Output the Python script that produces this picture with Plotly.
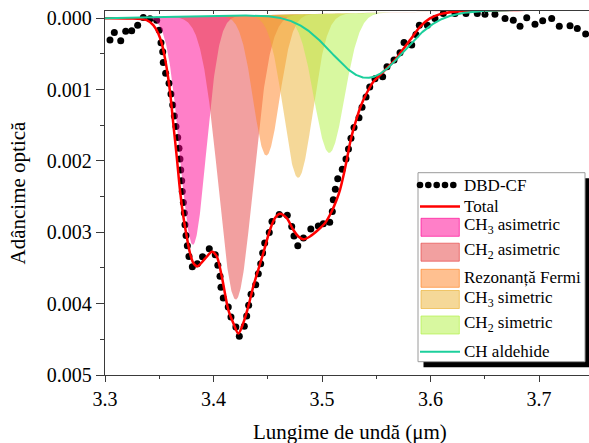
import numpy as np
import plotly.graph_objects as go

# ---------------- data ----------------
# measured spectrum (DBD-CF): wavelength (um) and optical depth
dbd_x = [3.3046, 3.3086, 3.3145, 3.3191, 3.3246, 3.3301, 3.3353, 3.3415, 3.3476, 3.3500,
         3.3516, 3.3532, 3.3537, 3.3559, 3.3590, 3.3608, 3.3624, 3.3639, 3.3654, 3.3670,
         3.3682, 3.3691, 3.3698, 3.3707, 3.3712, 3.3722, 3.3731, 3.3737, 3.3747, 3.3759,
         3.3774, 3.3805, 3.3851, 3.3899, 3.3961, 3.4016, 3.4040, 3.4060, 3.4069, 3.4090,
         3.4136, 3.4161, 3.4206, 3.4238, 3.4284, 3.4306, 3.4324, 3.4346, 3.4389, 3.4413,
         3.4435, 3.4453, 3.4472, 3.4514, 3.4539, 3.4606, 3.4680, 3.4721, 3.4742, 3.4777,
         3.4829, 3.4897, 3.4966, 3.5012, 3.5071, 3.5095, 3.5104, 3.5123, 3.5145, 3.5187,
         3.5221, 3.5244, 3.5267, 3.5295, 3.5341, 3.5369, 3.5406, 3.5440, 3.5488, 3.5559,
         3.5599, 3.5664, 3.5719, 3.5756, 3.5827, 3.5866, 3.5897, 3.5971, 3.6041, 3.6118,
         3.6226, 3.6327, 3.6431, 3.6502, 3.6594, 3.6687, 3.6763, 3.6825, 3.6887, 3.6963,
         3.7034, 3.7117, 3.7187, 3.7286, 3.7353, 3.7430]
dbd_y = [0.000308, 0.000200, 0.000317, 0.000182, 0.000178, 0.000098, -0.000010, 0.000007, 0.000028, 0.000168,
         0.000345, 0.000471, 0.000620, 0.000773, 0.000913, 0.001063, 0.001217, 0.001371, 0.001520, 0.001674,
         0.001822, 0.001972, 0.002126, 0.002280, 0.002429, 0.002583, 0.002731, 0.002895, 0.003045, 0.003189,
         0.003338, 0.003483, 0.003441, 0.003343, 0.003231, 0.003315, 0.003462, 0.003618, 0.003772, 0.003920,
         0.004046, 0.004186, 0.004329, 0.004457, 0.004317, 0.004175, 0.004021, 0.003870, 0.003734, 0.003580,
         0.003441, 0.003291, 0.003151, 0.003003, 0.002849, 0.002751, 0.002762, 0.002919, 0.003053, 0.003189,
         0.003081, 0.002955, 0.002913, 0.002881, 0.002860, 0.002709, 0.002545, 0.002396, 0.002252, 0.002116,
         0.001972, 0.001832, 0.001683, 0.001534, 0.001394, 0.001248, 0.001105, 0.000965, 0.000849, 0.000821,
         0.000681, 0.000587, 0.000485, 0.000340, 0.000378, 0.000228, 0.000098, 0.000098, 0.000004, -0.000066,
         -0.000066, -0.000066, -0.000066, -0.000056, -0.000056, 0.000004, 0.000028, 0.000112, -0.000004, 0.000084,
         0.000038, 0.000004, 0.000112, 0.000108, 0.000144, 0.000224]

# total fit curve
total_x = [3.2900, 3.3000, 3.3230, 3.3384, 3.3445, 3.3491, 3.3523, 3.3553, 3.3583, 3.3606, 3.3629,
           3.3661, 3.3691, 3.3722, 3.3753, 3.3783, 3.3814, 3.3851, 3.3922, 3.3986, 3.4030,
           3.4076, 3.4136, 3.4182, 3.4229, 3.4275, 3.4321, 3.4367, 3.4413, 3.4459, 3.4521,
           3.4567, 3.4613, 3.4675, 3.4735, 3.4782, 3.4828, 3.4889, 3.4966, 3.5028, 3.5089,
           3.5135, 3.5166, 3.5196, 3.5228, 3.5258, 3.5288, 3.5320, 3.5350, 3.5381, 3.5427,
           3.5473, 3.5535, 3.5596, 3.5673, 3.5719, 3.5811, 3.5903, 3.5995, 3.6088, 3.6180,
           3.6364, 3.6800, 3.7600]
total_y = [0.000000, 0.000000, 0.000004, 0.000028, 0.000098, 0.000214, 0.000354, 0.000564, 0.000843, 0.001123, 0.001473,
           0.001940, 0.002406, 0.002779, 0.003059, 0.003291, 0.003431, 0.003478, 0.003371, 0.003273, 0.003338,
           0.003618, 0.004084, 0.004270, 0.004420, 0.004270, 0.004038, 0.003758, 0.003524, 0.003291, 0.002965,
           0.002801, 0.002741, 0.002801, 0.002965, 0.003059, 0.003098, 0.003059, 0.002965, 0.002871, 0.002709,
           0.002545, 0.002406, 0.002220, 0.001986, 0.001752, 0.001566, 0.001403, 0.001263, 0.001147, 0.001007,
           0.000891, 0.000797, 0.000703, 0.000587, 0.000494, 0.000308, 0.000122, 0.000004, -0.000056, -0.000084,
           -0.000102, -0.000115, -0.000140]

# fitted gaussian components
comp_names = ["CH<sub>3</sub> asimetric", "CH<sub>2</sub> asimetric", "Rezonanță Fermi",
              "CH<sub>3</sub> simetric", "CH<sub>2</sub> simetric"]
comp_center = [3.3810, 3.4205, 3.4487, 3.4780, 3.5067]
comp_amp = [0.00320, 0.00398, 0.00197, 0.00229, 0.00195]
comp_sigma = [0.0120, 0.0158, 0.0120, 0.0133, 0.0140]
comp_rgb = [(255, 0, 145), (229, 65, 65), (255, 129, 33), (235, 177, 49), (177, 241, 65)]

# CH aldehyde band
ald_center = 3.542
ald_amp = 0.00091
ald_sigma = 0.033

# linear baseline of the fit (value at 3.3 um, slope per um)
base_b0 = 0.0
base_slope = -0.0003

# ---------------- figure ----------------
FONT = "'Liberation Serif', 'Times New Roman', Times, 'DejaVu Serif', serif"
W, H = 589, 443
ML, MR, MT, MB = 105, 0, 11, 68
PW, PH = W - ML - MR, H - MT - MB
X0 = 3.3
PX_PER_UM = 1085.0
X1 = X0 + PW / PX_PER_UM

xs = np.linspace(3.28, 3.77, 1471)
base = base_b0 + base_slope * (xs - 3.3)

fig = go.Figure()

# data points (drawn first: fills are translucent over them)
fig.add_trace(go.Scatter(x=dbd_x, y=dbd_y, mode="markers",
                         marker=dict(color="black", size=7), showlegend=False))

for name, c, a, s, rgb in zip(comp_names, comp_center, comp_amp, comp_sigma, comp_rgb):
    g = base + a * np.exp(-0.5 * ((xs - c) / s) ** 2)
    fig.add_trace(go.Scatter(x=xs, y=base, mode="lines", line=dict(width=0),
                             showlegend=False, hoverinfo="skip"))
    fig.add_trace(go.Scatter(x=xs, y=g, mode="lines", line=dict(width=0),
                             fill="tonexty",
                             fillcolor="rgba(%d,%d,%d,0.5)" % rgb,
                             showlegend=False, name=name))

fig.add_trace(go.Scatter(x=total_x, y=total_y, mode="lines",
                         line=dict(color="#FF0000", width=2.5, shape="spline", smoothing=0.8),
                         showlegend=False))

ald = base + ald_amp * np.exp(-0.5 * ((xs - ald_center) / ald_sigma) ** 2)
fig.add_trace(go.Scatter(x=xs, y=ald, mode="lines",
                         line=dict(color="#1CCF9C", width=2), showlegend=False))

# dummy trace for top inner ticks axis
fig.add_trace(go.Scatter(x=[None], y=[None], xaxis="x2", showlegend=False))

axis_col = "#3a3a3a"
fig.update_layout(
    width=W, height=H,
    margin=dict(l=ML, r=MR, t=MT, b=MB),
    paper_bgcolor="white", plot_bgcolor="white",
    font=dict(family=FONT, color="black"),
    xaxis=dict(range=[X0, X1], showgrid=False, zeroline=False,
               showline=True, linecolor=axis_col, linewidth=1.3, mirror=True,
               ticks="outside", ticklen=6, tickwidth=1.3, tickcolor=axis_col,
               tick0=3.3, dtick=0.1, tickformat=".1f",
               tickfont=dict(family=FONT, size=20, color="black"),
               minor=dict(ticks="outside", ticklen=3, tickwidth=1.3, tickcolor=axis_col, dtick=0.05, tick0=3.3)),
    xaxis2=dict(range=[X0, X1], overlaying="x", side="top", anchor="y",
                showgrid=False, zeroline=False, showline=False, showticklabels=False,
                ticks="inside", ticklen=3, tickwidth=1.3, tickcolor=axis_col,
                tick0=3.3, dtick=0.05),
    yaxis=dict(range=[0.005, -0.0001], showgrid=False, zeroline=False,
               showline=True, linecolor=axis_col, linewidth=1.3, mirror=False,
               ticks="outside", ticklen=8, tickwidth=1.3, tickcolor=axis_col,
               tickvals=[0, 0.001, 0.002, 0.003, 0.004, 0.005], tickformat=".3f",
               tickfont=dict(family=FONT, size=20, color="black"),
               minor=dict(ticks="outside", ticklen=4, tickwidth=1.3, tickcolor=axis_col,
                          tickvals=[0.0005, 0.0015, 0.0025, 0.0035, 0.0045])),
)

def px(p):
    return (p - ML) / PW

def py(p):
    return (H - MB - p) / PH

shapes = []
annotations = []

# titles
annotations.append(dict(text="Lungime de undă (μm)", x=px(350), y=py(432), xref="paper", yref="paper",
                        xanchor="center", yanchor="middle", showarrow=False,
                        font=dict(family=FONT, size=21, color="black")))
annotations.append(dict(text="Adâncime optică", x=px(17), y=py(192.5), xref="paper", yref="paper",
                        xanchor="center", yanchor="middle", showarrow=False, textangle=-90,
                        font=dict(family=FONT, size=21, color="black")))

# legend box with shadow
LX0, LX1, LY0, LY1 = 418, 585, 172.7, 361.7
shapes.append(dict(type="rect", xref="paper", yref="paper", x0=px(LX0 + 5.5), x1=px(LX1 + 5.5),
                   y0=py(LY0 + 5.5), y1=py(LY1 + 5.5), fillcolor="black", line=dict(width=0), layer="above"))
shapes.append(dict(type="rect", xref="paper", yref="paper", x0=px(LX0), x1=px(LX1),
                   y0=py(LY0), y1=py(LY1), fillcolor="white", line=dict(color="#9a9a9a", width=1), layer="above"))

legend_text_x = 462
leg_font = dict(family=FONT, size=17, color="black")

# DBD-CF row
rowy = 185
for cx in [420, 428.3, 436.7, 445, 453.3]:
    r = 3.3
    shapes.append(dict(type="circle", xref="paper", yref="paper", x0=px(cx - r), x1=px(cx + r),
                       y0=py(rowy - r), y1=py(rowy + r), fillcolor="black", line=dict(width=0), layer="above"))
annotations.append(dict(text="DBD-CF", x=px(legend_text_x), y=py(rowy), xref="paper", yref="paper",
                        xanchor="left", yanchor="middle", showarrow=False, font=leg_font))
# Total row
rowy = 206.5
shapes.append(dict(type="line", xref="paper", yref="paper", x0=px(420), x1=px(460), y0=py(rowy), y1=py(rowy),
                   line=dict(color="#FF0000", width=2.5), layer="above"))
annotations.append(dict(text="Total", x=px(legend_text_x), y=py(rowy), xref="paper", yref="paper",
                        xanchor="left", yanchor="middle", showarrow=False, font=leg_font))
# component rows
comp_rows = [227.3, 252.2, 278.3, 299.5, 325]
for name, rgb, cy in zip(comp_names, comp_rgb, comp_rows):
    fc = "rgba(%d,%d,%d,0.5)" % rgb
    lc = "rgba(%d,%d,%d,0.65)" % rgb
    shapes.append(dict(type="rect", xref="paper", yref="paper", x0=px(421), x1=px(459.3),
                       y0=py(cy - 9), y1=py(cy + 9), fillcolor=fc, line=dict(color=lc, width=1), layer="above"))
    annotations.append(dict(text=name, x=px(legend_text_x), y=py(cy - 1), xref="paper", yref="paper",
                            xanchor="left", yanchor="middle", showarrow=False, font=leg_font))
# aldehyde row
rowy = 351.7
shapes.append(dict(type="line", xref="paper", yref="paper", x0=px(420), x1=px(460), y0=py(rowy), y1=py(rowy),
                   line=dict(color="#1CCF9C", width=2), layer="above"))
annotations.append(dict(text="CH aldehide", x=px(legend_text_x), y=py(rowy), xref="paper", yref="paper",
                        xanchor="left", yanchor="middle", showarrow=False, font=leg_font))

fig.update_layout(shapes=shapes, annotations=annotations, showlegend=False)

fig.write_html("out.html", config={"displayModeBar": False})
